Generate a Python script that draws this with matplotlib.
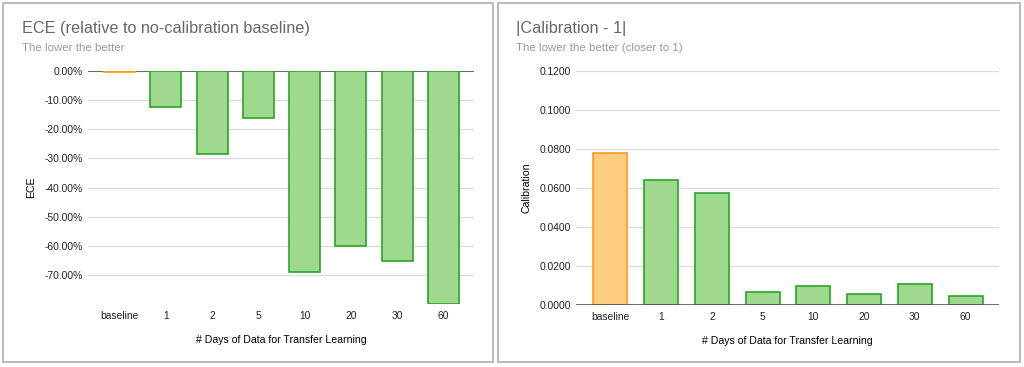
import matplotlib
matplotlib.use('Agg')
import matplotlib.pyplot as plt
from matplotlib.patches import Rectangle
from matplotlib.ticker import FuncFormatter

plt.rcParams['font.family'] = ['Liberation Sans', 'DejaVu Sans']

# data
days = ['baseline', '1', '2', '5', '10', '20', '30', '60']
ece_rel = [-0.003, -0.125, -0.284, -0.160, -0.691, -0.600, -0.653, -0.800]
calib_err = [0.0782, 0.0643, 0.0573, 0.0067, 0.0100, 0.0057, 0.0108, 0.0048]

green_fill = '#9ed98e'
green_edge = '#2aa52a'
orange_fill = '#ffcc80'
orange_edge = '#ff9a1a'

W, H = 1024, 367
fig = plt.figure(figsize=(W / 100, H / 100), dpi=100)
fig.patch.set_facecolor('white')

def fx(px):
    return px / W

def fy(py):
    return 1 - py / H

# panel borders
for x0, x1 in [(3, 493), (498, 1020)]:
    fig.patches.append(Rectangle((fx(x0), fy(362)), fx(x1 - x0), 359 / H,
                                 transform=fig.transFigure, fill=False,
                                 edgecolor='#bdbdbd', linewidth=1.5))

def style_ax(ax):
    for s in ax.spines.values():
        s.set_visible(False)
    ax.tick_params(axis='both', length=0, labelsize=7.4, colors='#222222')
    ax.tick_params(axis='y', pad=3.6)
    ax.tick_params(axis='x', pad=5)
    ax.grid(axis='y', color='#dcdcdc', linewidth=1)
    ax.set_axisbelow(True)
    ax.set_xlim(-0.68, len(days) - 0.34)

colors_fill = [orange_fill] + [green_fill] * (len(days) - 1)
colors_edge = [orange_edge] + [green_edge] * (len(days) - 1)

# left chart
ax1 = fig.add_axes([fx(88), fy(304), fx(474 - 88), (304 - 71) / H])
style_ax(ax1)
ax1.axhline(0, color='#555555', linewidth=1.2, zorder=2)
ax1.bar(range(len(days)), ece_rel, width=0.67, color=colors_fill,
        edgecolor=colors_edge, linewidth=1.2, zorder=3)
ax1.set_ylim(-0.80, 0)
ax1.set_yticks([0, -0.1, -0.2, -0.3, -0.4, -0.5, -0.6, -0.7])
ax1.yaxis.set_major_formatter(FuncFormatter(lambda v, p: f'{v * 100:.2f}%'))
ax1.set_xticks(range(len(days)))
ax1.set_xticklabels(days)
ax1.set_ylabel('ECE', fontsize=7.6, labelpad=6)
ax1.set_xlabel('# Days of Data for Transfer Learning', fontsize=7.6, labelpad=10)
fig.text(fx(22), fy(28), 'ECE (relative to no-calibration baseline)',
         fontsize=11.7, color='#666666', va='center', ha='left')
fig.text(fx(22), fy(48), 'The lower the better', fontsize=8.25,
         color='#999999', va='center', ha='left')

# right chart
ax2 = fig.add_axes([fx(576), fy(305), fx(999 - 576), (305 - 71) / H])
style_ax(ax2)
ax2.bar(range(len(days)), calib_err, width=0.67, color=colors_fill,
        edgecolor=colors_edge, linewidth=1.2, zorder=3)
ax2.axhline(0, color='#555555', linewidth=1.2, zorder=4)
ax2.set_ylim(0, 0.12)
ax2.set_yticks([0, 0.02, 0.04, 0.06, 0.08, 0.10, 0.12])
ax2.yaxis.set_major_formatter(FuncFormatter(lambda v, p: f'{v:.4f}'))
ax2.set_xticks(range(len(days)))
ax2.set_xticklabels(days)
ax2.set_ylabel('Calibration', fontsize=7.6, labelpad=6)
ax2.set_xlabel('# Days of Data for Transfer Learning', fontsize=7.6, labelpad=10)
fig.text(fx(516), fy(28), '|Calibration - 1|', fontsize=11.7,
         color='#666666', va='center', ha='left')
fig.text(fx(516), fy(48), 'The lower the better (closer to 1)', fontsize=8.25,
         color='#999999', va='center', ha='left')

fig.savefig('out.png', dpi=100)
